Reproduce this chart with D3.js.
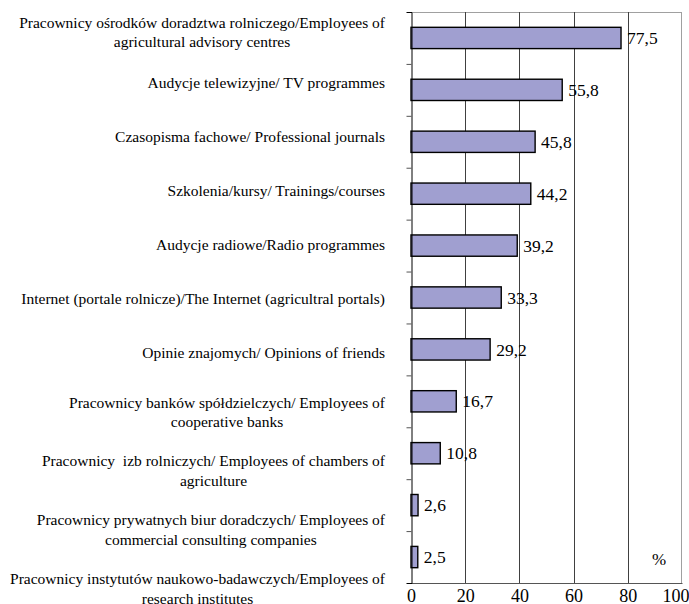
<!DOCTYPE html>
<html><head><meta charset="utf-8">
<script src="https://cdn.jsdelivr.net/npm/d3@7"></script>
<style>body{margin:0;background:#fff} svg{display:block}</style>
</head><body><svg id="c" width="689" height="604"></svg>
<script>
const categories = [
  "Pracownicy ośrodków doradztwa rolniczego/Employees of\nagricultural advisory centres",
  "Audycje telewizyjne/ TV programmes",
  "Czasopisma fachowe/ Professional journals",
  "Szkolenia/kursy/ Trainings/courses",
  "Audycje radiowe/Radio programmes",
  "Internet (portale rolnicze)/The Internet (agricultral portals)",
  "Opinie znajomych/ Opinions of friends",
  "Pracownicy banków spółdzielczych/ Employees of\ncooperative banks",
  "Pracownicy  izb rolniczych/ Employees of chambers of\nagriculture",
  "Pracownicy prywatnych biur doradczych/ Employees of\ncommercial consulting companies",
  "Pracownicy instytutów naukowo-badawczych/Employees of\nresearch institutes"
];
const values = [77.5, 55.8, 45.8, 44.2, 39.2, 33.3, 29.2, 16.7, 10.8, 2.6, 2.5];
const xTicks = [0, 20, 40, 60, 80, 100];
const unitLabel = "%";

const FONT = '"Liberation Serif", "Times New Roman", serif';
const svg = d3.select("#c");
const plot = {left: 411, right: 682, top: 12, bottom: 583};

const x = d3.scaleLinear().domain([0, 100]).range([plot.left, plot.right]);
const y = d3.scaleBand().domain(d3.range(categories.length)).range([plot.top, plot.bottom]);
const labelY = d3.scaleLinear().domain([0, 1, 6, 10]).range([32, 83, 353, 588.5]);
const fmt = v => d3.format(".1f")(v).replace(".", ",");

// top and right border
svg.append("line").attr("x1", plot.left).attr("x2", plot.right).attr("y1", plot.top + 0.5).attr("y2", plot.top + 0.5)
  .attr("stroke", "#a0a0a0").attr("stroke-width", 1);
svg.append("line").attr("x1", x(100) - 0.5).attr("x2", x(100) - 0.5).attr("y1", plot.top).attr("y2", plot.bottom)
  .attr("stroke", "#a0a0a0").attr("stroke-width", 1);

// gridlines
svg.append("g").selectAll("line").data(xTicks.filter(t => t > 0 && t < 100)).join("line")
  .attr("x1", d => Math.round(x(d)) + 0.5).attr("x2", d => Math.round(x(d)) + 0.5)
  .attr("y1", plot.top).attr("y2", plot.bottom)
  .attr("stroke", "#404040").attr("stroke-width", 1);

// bottom axis
const xAxis = svg.append("g").attr("transform", `translate(0,${plot.bottom})`)
  .call(d3.axisBottom(x).tickValues(xTicks).tickSize(0).tickPadding(6).tickFormat(d3.format("d")));
xAxis.attr("font-family", null).attr("font-size", null);
xAxis.select(".domain").attr("stroke", "#555");
xAxis.selectAll("text").style("font-family", FONT).style("font-size", "18px").attr("fill", "#000").attr("dy", "0.71em")
  .attr("text-anchor", d => d === 100 ? "end" : "middle")
  .attr("dx", d => d === 100 ? 7 : 0);

// bars
const barH = y.bandwidth() * 0.41;
svg.append("g").selectAll("rect").data(values).join("rect")
  .attr("x", x(0))
  .attr("y", (d, i) => y(i) + y.bandwidth() / 2 - barH / 2)
  .attr("width", d => x(d) - x(0))
  .attr("height", barH)
  .attr("fill", "#a09fd0")
  .attr("stroke", "#000").attr("stroke-width", 1.4);

// value labels
svg.append("g").selectAll("text").data(values).join("text")
  .attr("x", d => x(d) + 6)
  .attr("y", (d, i) => y(i) + y.bandwidth() / 2)
  .attr("dy", "0.35em")
  .style("font-family", FONT).style("font-size", "17.5px").attr("fill", "#000")
  .text(d => fmt(d));

// left axis with category separators
const sep = d3.scaleLinear().domain([0, categories.length]).range([plot.top, plot.bottom]);
const yAxis = svg.append("g").attr("transform", `translate(${plot.left + 0.5},0)`)
  .call(d3.axisLeft(sep).tickValues(d3.range(1, categories.length)).tickSize(5).tickFormat(""));
yAxis.select(".domain").attr("stroke", "#000");
yAxis.selectAll(".tick line").attr("stroke", "#555");

// category labels
const anchorX = 385;
const lineH = 19.5;
const probe = svg.append("text").style("font-family", FONT).style("font-size", "14px").style("white-space", "pre")
  .text(categories[0].split("\n")[0]);
const labelSize = Math.max(13, Math.min(16.5, 14 * 366 / probe.node().getComputedTextLength()));
probe.remove();

const g = svg.append("g").attr("fill", "#000");
categories.forEach((c, i) => {
  const lines = c.split("\n");
  const t = g.append("text").attr("text-anchor", "middle")
    .style("font-family", FONT).style("font-size", labelSize + "px").style("white-space", "pre");
  const tsp = lines.map((ln, k) => t.append("tspan").text(ln)
    .attr("y", labelY(i) + (k - (lines.length - 1) / 2) * lineH).attr("dy", "0.35em"));
  const w = d3.max(tsp, s => s.node().getComputedTextLength());
  tsp.forEach(s => s.attr("x", anchorX - w / 2));
});

// unit label
svg.append("text").attr("x", 659).attr("y", y(categories.length - 1) + y.bandwidth() / 2 + 2)
  .attr("dy", "0.35em").attr("text-anchor", "middle")
  .style("font-family", FONT).style("font-size", "17px").attr("fill", "#000").text(unitLabel);
</script></body></html>
